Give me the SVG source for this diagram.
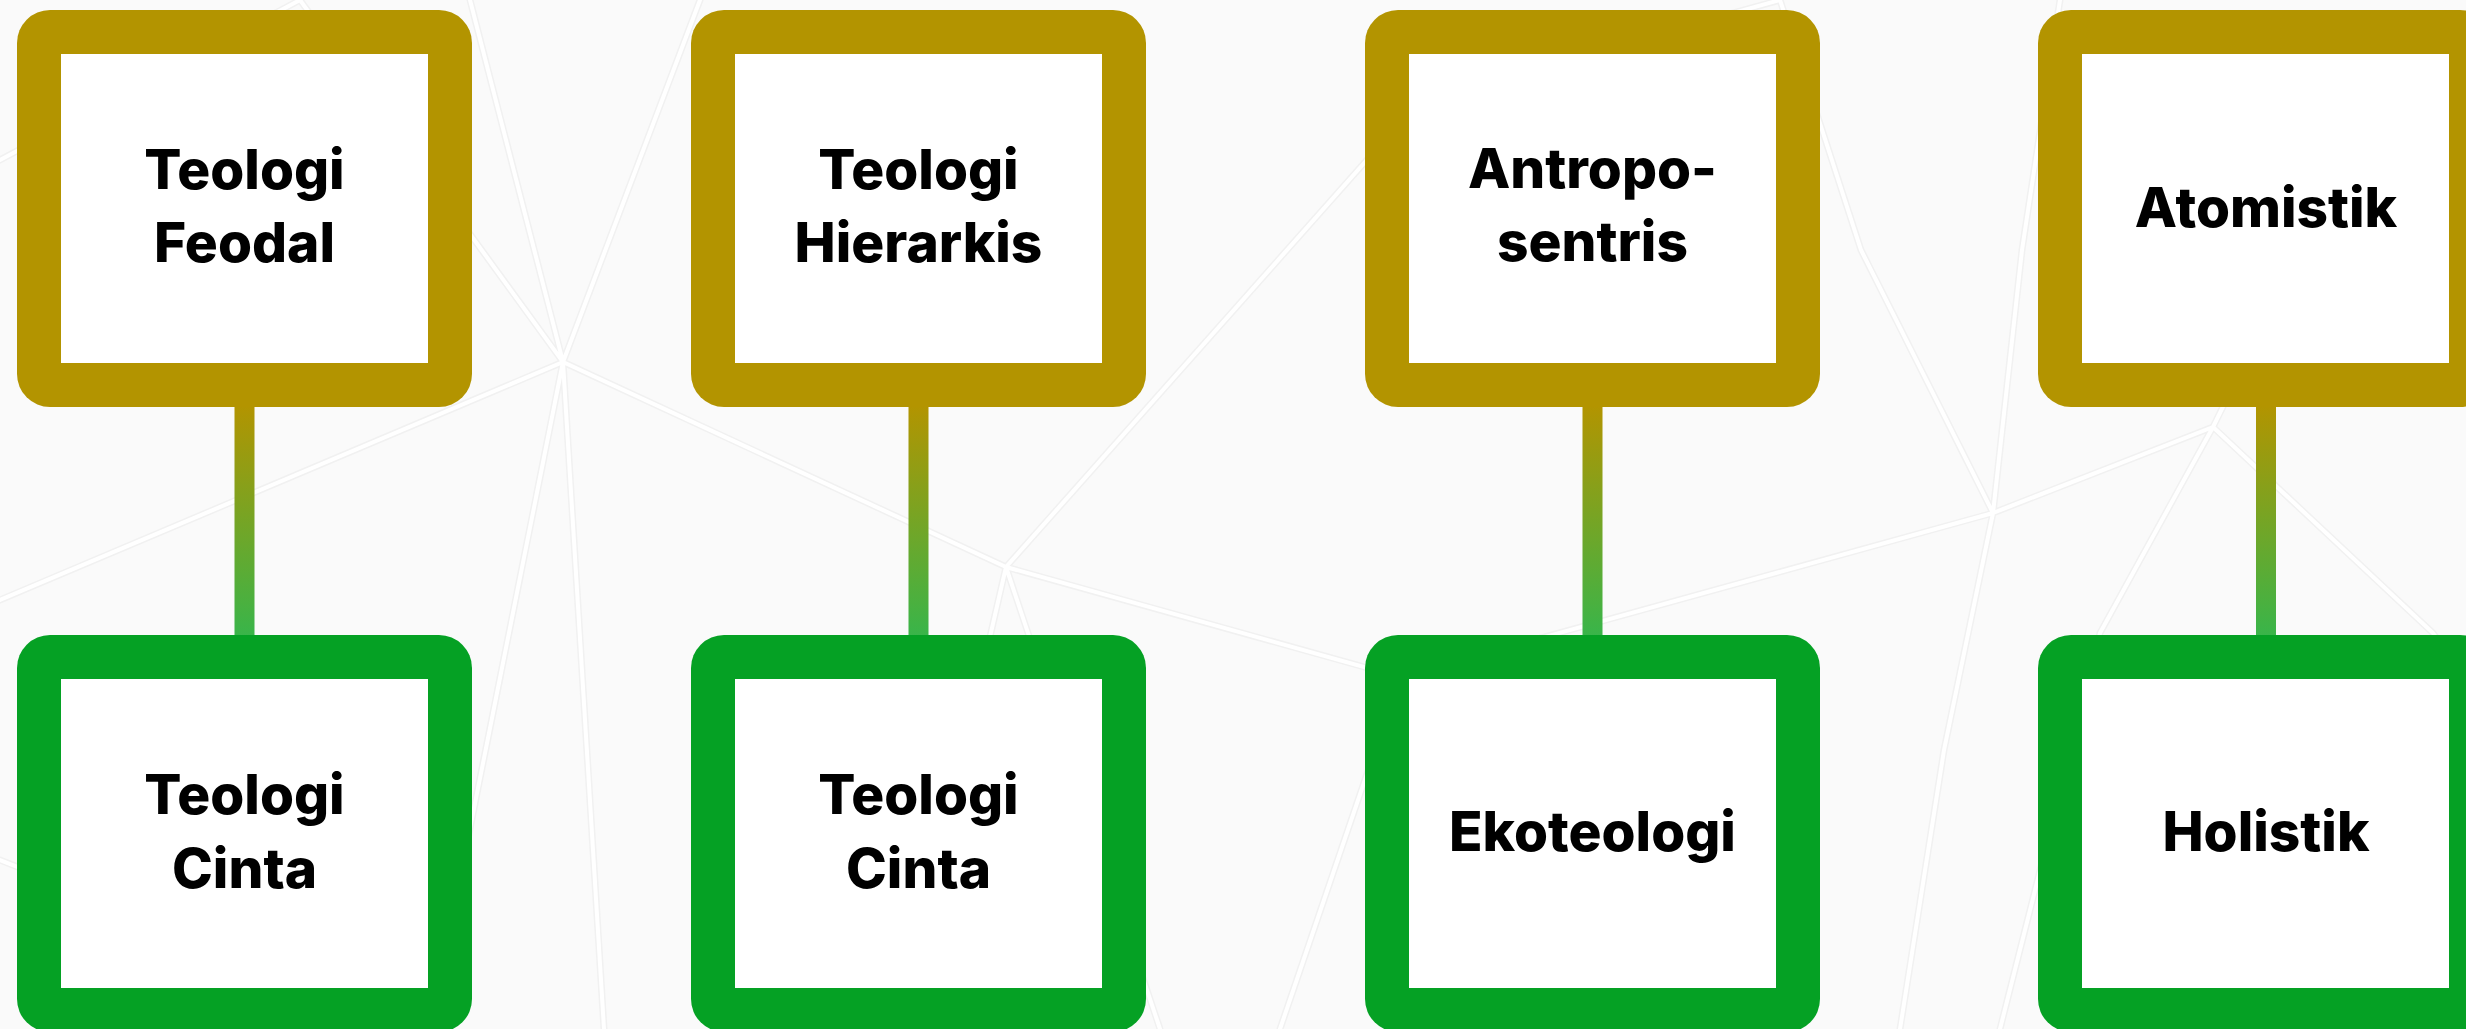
<svg xmlns="http://www.w3.org/2000/svg" width="2466" height="1029" viewBox="0 0 2466 1029">
  <defs>
    <linearGradient id="conn" x1="0" y1="0" x2="0" y2="1">
      <stop offset="0" stop-color="#B39400"/>
      <stop offset="1" stop-color="#38B54A"/>
    </linearGradient>
    <style>
      .bgl { stroke: #f1f1f1; stroke-width: 7; fill: none; stroke-linecap: round; }
      .bgw { stroke: #ffffff; stroke-width: 4; fill: none; stroke-linecap: round; }
      .gold { fill: #B39400; }
      .green { fill: #05A124; }
      .inner { fill: #ffffff; }
      .lbl { font-family: Inter, "Liberation Sans", sans-serif; font-weight: 800; font-size: 55px; fill: #000000; text-anchor: middle; }
      .conn { fill: url(#conn); }
    </style>
    <g id="net">
      <path d="M470,0 L563,362 M700,0 L563,362 M563,362 L604,1029 M563,362 L430,1029 M563,362 L1006,567 M563,362 L0,600 M563,362 L300,0 M1006,567 L1160,1029 M1006,567 L1420,100 M1006,567 L1400,677 L1700,1029 M1006,567 L900,1029 M1400,677 L1993,513 M1993,513 L1861,250 L1780,0 M1993,513 L2022,250 L2060,0 M1993,513 L1944,750 L1900,1029 M1993,513 L2213,427 M2213,427 L2100,633 L2000,1029 M2213,427 L2433,633 L2466,680 M2213,427 L2300,250 M1420,100 L1780,0 M1400,677 L1280,1029 M0,160 L300,0 M0,860 L430,1029"/>
    </g>
  </defs>
  <rect x="0" y="0" width="2466" height="1029" fill="#FAFAFA"/>
  <g id="background">
    <use href="#net" class="bgl"/>
    <use href="#net" class="bgw"/>
  </g>
  <g id="connectors">
    <rect class="conn" x="234.5" y="405" width="20" height="232"/>
    <rect class="conn" x="908.5" y="405" width="20" height="232"/>
    <rect class="conn" x="1582.5" y="405" width="20" height="232"/>
    <rect class="conn" x="2256" y="405" width="20" height="232"/>
  </g>
  <g id="node-teologi-feodal">
    <rect class="gold" x="17" y="10" width="455" height="397" rx="33"/>
    <rect class="inner" x="61" y="54" width="367" height="309"/>
    <text class="lbl" x="244.5" y="189">Teologi</text>
    <text class="lbl" x="244.5" y="262">Feodal</text>
  </g>
  <g id="node-teologi-hierarkis">
    <rect class="gold" x="691" y="10" width="455" height="397" rx="33"/>
    <rect class="inner" x="735" y="54" width="367" height="309"/>
    <text class="lbl" x="918.5" y="189">Teologi</text>
    <text class="lbl" x="918.5" y="262">Hierarkis</text>
  </g>
  <g id="node-antroposentris">
    <rect class="gold" x="1365" y="10" width="455" height="397" rx="33"/>
    <rect class="inner" x="1409" y="54" width="367" height="309"/>
    <text class="lbl" x="1592.5" y="188">Antropo-</text>
    <text class="lbl" x="1592.5" y="261">sentris</text>
  </g>
  <g id="node-atomistik">
    <rect class="gold" x="2038" y="10" width="455" height="397" rx="33"/>
    <rect class="inner" x="2082" y="54" width="367" height="309"/>
    <text class="lbl" x="2266" y="227">Atomistik</text>
  </g>
  <g id="node-teologi-cinta-1">
    <rect class="green" x="17" y="635" width="455" height="397" rx="33"/>
    <rect class="inner" x="61" y="679" width="367" height="309"/>
    <text class="lbl" x="244.5" y="814">Teologi</text>
    <text class="lbl" x="244.5" y="888">Cinta</text>
  </g>
  <g id="node-teologi-cinta-2">
    <rect class="green" x="691" y="635" width="455" height="397" rx="33"/>
    <rect class="inner" x="735" y="679" width="367" height="309"/>
    <text class="lbl" x="918.5" y="814">Teologi</text>
    <text class="lbl" x="918.5" y="888">Cinta</text>
  </g>
  <g id="node-ekoteologi">
    <rect class="green" x="1365" y="635" width="455" height="397" rx="33"/>
    <rect class="inner" x="1409" y="679" width="367" height="309"/>
    <text class="lbl" x="1592.5" y="851">Ekoteologi</text>
  </g>
  <g id="node-holistik">
    <rect class="green" x="2038" y="635" width="455" height="397" rx="33"/>
    <rect class="inner" x="2082" y="679" width="367" height="309"/>
    <text class="lbl" x="2266" y="851">Holistik</text>
  </g>
</svg>
